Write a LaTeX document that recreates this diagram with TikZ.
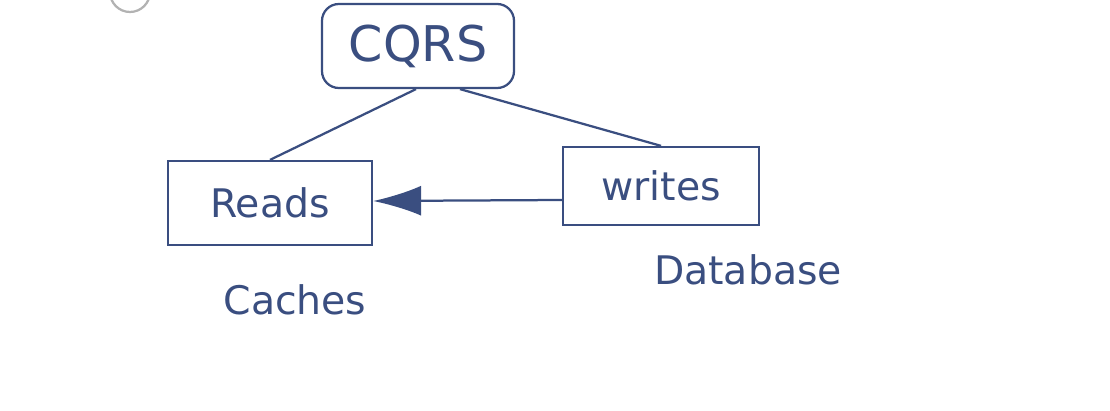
\documentclass[tikz,border=0pt]{standalone}
\usepackage{fontspec}
\setsansfont{DejaVu Sans}
\usepackage{tikz}
\usetikzlibrary{arrows.meta}
\usetikzlibrary{positioning}

\definecolor{ink}{RGB}{58,78,128}

\begin{document}
\begin{tikzpicture}[
	ink line/.style={draw=ink, line width=1.6pt},
	sketchbox/.style={ink line, minimum width=#1, inner sep=0pt},
	label text/.style={text=ink, font=\sffamily\fontsize{28}{34}\selectfont}]
	\useasboundingbox (0,0) rectangle (27.75,10.25);
	\draw[gray!60, line width=1.6pt] (3.25,10.45) circle (0.5);%corner mark
	\node[sketchbox=4.8cm, minimum height=2.1cm, rounded corners=12pt, label text,
		font=\sffamily\fontsize{35}{42}\selectfont] (cqrs) at (10.45,9.1){CQRS};
	\node[sketchbox=5.1cm, minimum height=2.1cm, label text] (reads) at (6.75,5.175){Reads};
	\node[sketchbox=4.9cm, minimum height=1.95cm, label text] (writes) at (16.525,5.6){writes};
	\node[label text] (caches) at (7.375,2.75){Caches};
	\node[label text] (database) at (18.7,3.5){Database};
	\draw[ink line] ([xshift=-0.05cm]cqrs.south) -- (reads.north);
	\draw[ink line] ([xshift=1.05cm]cqrs.south) -- (writes.north);
	\draw[ink line, -{Latex[length=1.2cm,width=0.75cm]}] ([yshift=-0.35cm]writes.west) -- ([yshift=0.05cm]reads.east);
\end{tikzpicture}
\end{document}
